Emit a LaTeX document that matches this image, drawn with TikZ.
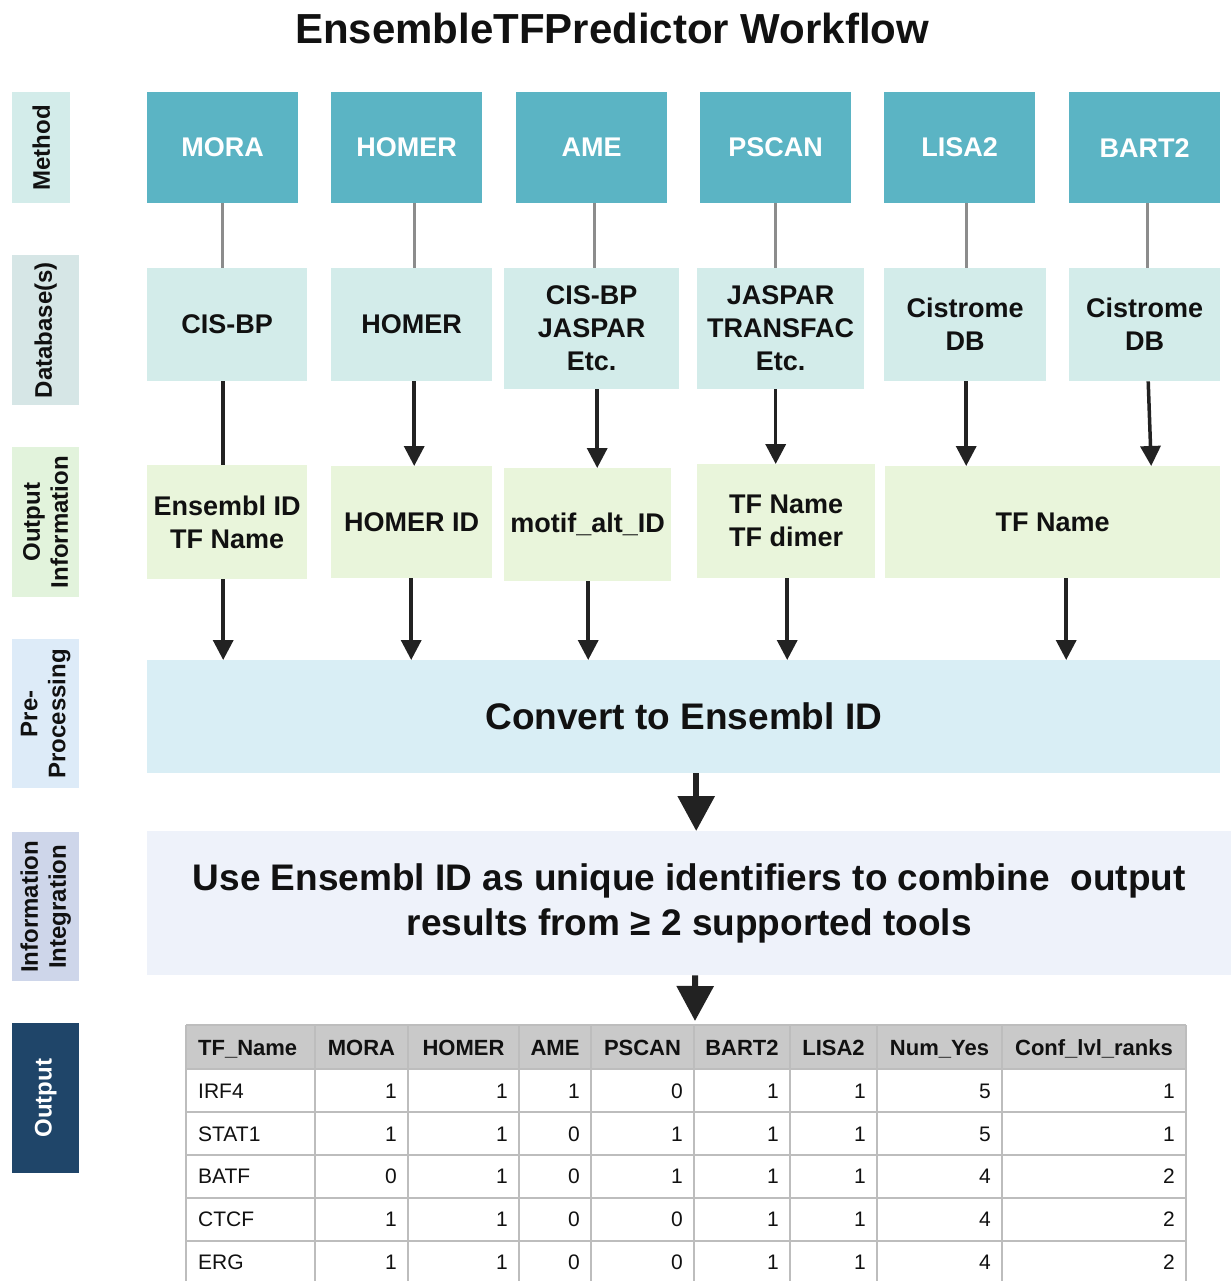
\documentclass[tikz,border=0pt]{standalone}
\usepackage{fontspec}
\setmainfont{Liberation Sans}
\usetikzlibrary{arrows.meta,calc}
\definecolor{methodc}{HTML}{5BB4C4}
\definecolor{dbc}{HTML}{D3ECEA}
\definecolor{outc}{HTML}{E9F5DB}
\definecolor{convc}{HTML}{D9EEF5}
\definecolor{integc}{HTML}{EEF2FA}
\definecolor{labmeth}{HTML}{D3ECEA}
\definecolor{labdb}{HTML}{D6E6E6}
\definecolor{labout}{HTML}{E2F3DC}
\definecolor{labpre}{HTML}{DDEBF8}
\definecolor{labint}{HTML}{CED6EA}
\definecolor{labres}{HTML}{1F4569}
\definecolor{hdrc}{HTML}{C9C9C9}
\definecolor{gridc}{HTML}{BDBDBD}
\definecolor{inkc}{HTML}{111111}
\definecolor{arrc}{HTML}{222222}
\begin{document}
\begin{tikzpicture}[x=1pt,y=-1pt,
  box/.style={anchor=north west, inner sep=0pt, align=center, text=inkc,
    font=\bfseries\fontsize{27}{33}\selectfont},
  methodbox/.style={box, fill=methodc, text=white, minimum width=151pt, minimum height=111pt},
  dbbox/.style={box, fill=dbc},
  outbox/.style={box, fill=outc},
  sidelab/.style={anchor=north west, inner sep=0pt, minimum width=67pt, minimum height=150pt},
  sidetext/.style={rotate=90, align=center, inner sep=0pt, text=inkc,
    font=\bfseries\fontsize{24}{28}\selectfont},
  conn/.style={line width=3pt, draw=black!45},
  arr/.style={line width=3.5pt, draw=arrc, -{Triangle[width=20pt,length=20pt]}},
  plainline/.style={line width=3.5pt, draw=arrc},
  bigarr/.style={line width=6pt, draw=arrc, -{Triangle[width=36pt,length=35pt]}},
  gridline/.style={line width=1.5pt, draw=gridc},
  hdrtxt/.style={inner sep=0pt, text=inkc, text height=16pt, text depth=0pt,
    font=\bfseries\fontsize{22}{26}\selectfont},
  celltxt/.style={inner sep=0pt, text=inkc, text height=15pt, text depth=0pt,
    font=\fontsize{21}{25}\selectfont}
]
\useasboundingbox[fill=white] (0,0) rectangle (1231,1281);

% title
\node[anchor=base, inner sep=0pt, text=inkc, font=\bfseries\fontsize{42}{48}\selectfont]
  (title) at (612,44) {EnsembleTFPredictor Workflow};

% side labels
\node[sidelab, fill=labmeth, minimum width=58pt, minimum height=111pt] (lab1) at (12,92) {};
\node[sidetext] (lab1t) at (lab1.center) {Method};
\node[sidelab, fill=labdb] (lab2) at (12,255) {};
\node[sidetext] (lab2t) at (lab2.center) {Database(s)};
\node[sidelab, fill=labout] (lab3) at (12,447) {};
\node[sidetext] (lab3t) at (lab3.center) {Output\\Information};
\node[sidelab, fill=labpre, minimum height=149pt] (lab4) at (12,639) {};
\node[sidetext] (lab4t) at (lab4.center) {Pre-\\Processing};
\node[sidelab, fill=labint, minimum height=149pt] (lab5) at (12,832) {};
\node[sidetext] (lab5t) at (lab5.center) {Information\\Integration};
\node[sidelab, fill=labres] (lab6) at (12,1023) {};
\node[sidetext, text=white] (lab6t) at (lab6.center) {Output};

% method boxes
\node[methodbox] (m1) at (147,92) {MORA};
\node[methodbox] (m2) at (331,92) {HOMER};
\node[methodbox] (m3) at (516,92) {AME};
\node[methodbox] (m4) at (700,92) {PSCAN};
\node[methodbox] (m5) at (884,92) {LISA2};
\node[methodbox] (m6) at (1069,92) {BART2};

% database boxes
\node[dbbox, minimum width=160pt, minimum height=113pt] (d1) at (147,268) {CIS-BP};
\node[dbbox, minimum width=161pt, minimum height=113pt] (d2) at (331,268) {HOMER};
\node[dbbox, minimum width=175pt, minimum height=121pt] (d3) at (504,268) {CIS-BP\\JASPAR\\Etc.};
\node[dbbox, minimum width=167pt, minimum height=121pt] (d4) at (697,268) {JASPAR\\TRANSFAC\\Etc.};
\node[dbbox, minimum width=162pt, minimum height=113pt] (d5) at (884,268) {Cistrome\\DB};
\node[dbbox, minimum width=151pt, minimum height=113pt] (d6) at (1069,268) {Cistrome\\DB};

% output information boxes
\node[outbox, minimum width=160pt, minimum height=114pt] (o1) at (147,465) {Ensembl ID\\TF Name};
\node[outbox, minimum width=161pt, minimum height=112pt] (o2) at (331,466) {HOMER ID};
\node[outbox, minimum width=167pt, minimum height=113pt] (o3) at (504,468) {motif\_alt\_ID};
\node[outbox, minimum width=178pt, minimum height=114pt] (o4) at (697,464) {TF Name\\TF dimer};
\node[outbox, minimum width=335pt, minimum height=112pt] (o5) at (885,466) {TF Name};

% pre-processing
\node[box, fill=convc, minimum width=1073pt, minimum height=113pt,
  font=\bfseries\fontsize{37}{45}\selectfont] (conv) at (147,660) {Convert to Ensembl ID};

% integration
\node[box, fill=integc, minimum width=1084pt, minimum height=144pt,
  font=\bfseries\fontsize{37}{45}\selectfont] (integ) at (147,831)
  {Use Ensembl ID as unique identifiers to combine\ \ output\\results from ≥ 2 supported tools};

% method -> database lines
\draw[conn] (m1.south) -- ($(d1.north)+(-4.5,0)$);
\draw[conn] ($(m2.south)+(7.5,0)$) -- ($(d2.north)+(2.5,0)$);
\draw[conn] ($(m3.south)+(2.5,0)$) -- ($(d3.north)+(2.5,0)$);
\draw[conn] (m4.south) -- ($(d4.north)+(-5,0)$);
\draw[conn] ($(m5.south)+(6.5,0)$) -- ($(d5.north)+(1,0)$);
\draw[conn] ($(m6.south)+(2.5,0)$) -- ($(d6.north)+(2.5,0)$);

% database -> output information
\draw[plainline] ($(d1.south)+(-4,0)$) -- ($(o1.north)+(-4,0)$);
\draw[arr] ($(d2.south)+(2.5,0)$) -- ($(o2.north)+(2.5,0)$);
\draw[arr] ($(d3.south)+(5.5,0)$) -- ($(o3.north)+(9.5,0)$);
\draw[arr] ($(d4.south)+(-5,0)$) -- ($(o4.north)+(-10.5,0)$);
\draw[arr] ($(d5.south)+(1,0)$) -- ($(o5.north)+(-86.5,0)$);
\draw[arr] ($(d6.south)+(3.5,0)$) -- ($(o5.north)+(98.5,0)$);

% output information -> convert
\draw[arr] ($(o1.south)+(-4,0)$) -- ($(conv.north)+(-460.5,0)$);
\draw[arr] ($(o2.south)+(-0.5,0)$) -- ($(conv.north)+(-272.5,0)$);
\draw[arr] ($(o3.south)+(0.5,0)$) -- ($(conv.north)+(-95.5,0)$);
\draw[arr] ($(o4.south)+(1,0)$) -- ($(conv.north)+(103.5,0)$);
\draw[arr] ($(o5.south)+(13.5,0)$) -- ($(conv.north)+(382.5,0)$);

% table
\coordinate (tabtop) at (695,1025);
\fill[white] (186,1025) rectangle (1186,1281);
\fill[hdrc] (186,1025) rectangle (1186,1069);
\foreach \yy in {1025,1069,1112,1155,1198,1241}
  \draw[gridline] (186,\yy) -- (1186,\yy);
\foreach \xx in {186,315,408,519,591,694,790,877,1002,1186}
  \draw[gridline] (\xx,1025) -- (\xx,1281);

\node[hdrtxt, anchor=west] (h1) at (198,1047) {TF\_Name};
\foreach \t/\xx [count=\i] in {MORA/361.5,HOMER/463.5,AME/555,PSCAN/642.5,BART2/742,LISA2/833.5,Num\_Yes/939.5,Conf\_lvl\_ranks/1094}
  \node[hdrtxt] (hc\i) at (\xx,1047) {\t};

\foreach \nm/\yy in {IRF4/1091,STAT1/1134,BATF/1176,CTCF/1219,ERG/1262}
  \node[celltxt, anchor=west] (n\yy) at (198,\yy) {\nm};

\foreach \v/\xx in {1/397,1/508,1/580,0/683,1/779,1/866,5/991,1/1175}
  \node[celltxt, anchor=east] at (\xx,1091) {\v};
\foreach \v/\xx in {1/397,1/508,0/580,1/683,1/779,1/866,5/991,1/1175}
  \node[celltxt, anchor=east] at (\xx,1134) {\v};
\foreach \v/\xx in {0/397,1/508,0/580,1/683,1/779,1/866,4/991,2/1175}
  \node[celltxt, anchor=east] at (\xx,1176) {\v};
\foreach \v/\xx in {1/397,1/508,0/580,0/683,1/779,1/866,4/991,2/1175}
  \node[celltxt, anchor=east] at (\xx,1219) {\v};
\foreach \v/\xx in {1/397,1/508,0/580,0/683,1/779,1/866,4/991,2/1175}
  \node[celltxt, anchor=east] at (\xx,1262) {\v};

% big arrows
\draw[bigarr] ($(conv.south)+(12.5,0)$) -- ($(integ.north)+(7,0)$);
\draw[bigarr] ($(integ.south)+(6,0)$) -- ($(tabtop)+(0,-4)$);
\end{tikzpicture}
\end{document}
